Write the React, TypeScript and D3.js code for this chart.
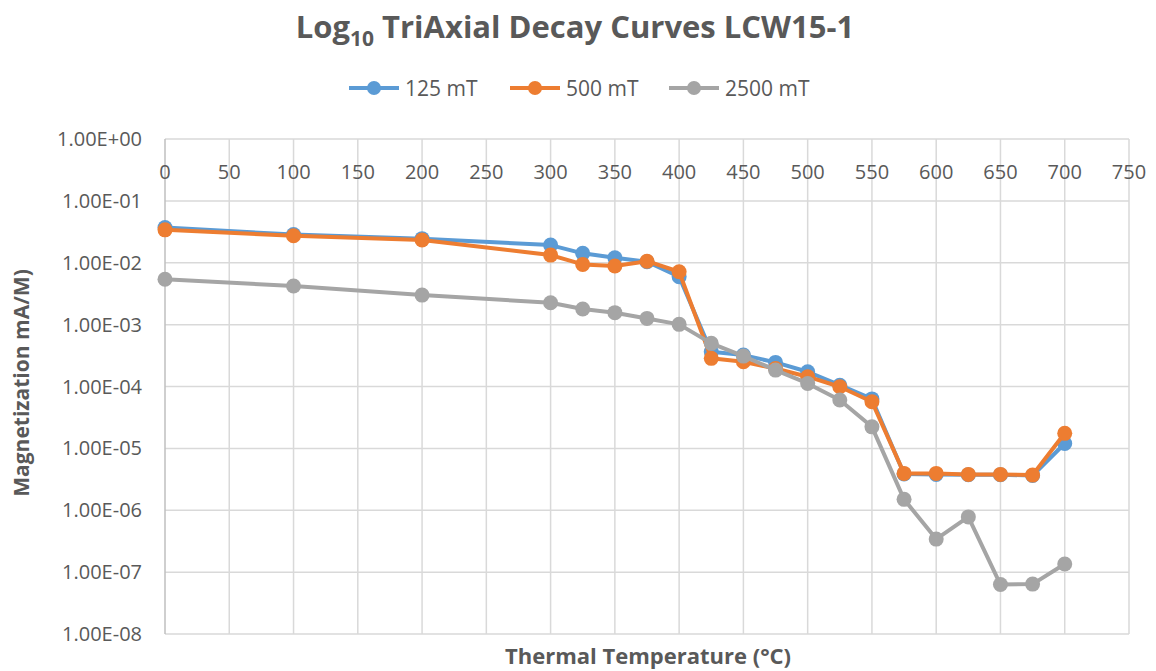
import React from "react";
import * as d3 from "d3";

// Thermal demagnetization steps (°C)
const temperatures = [0, 100, 200, 300, 325, 350, 375, 400, 425, 450, 475, 500, 525, 550, 575, 600, 625, 650, 675, 700];

// Magnetization (mA/M) per IRM component
const mag125 = [3.7e-2, 2.85e-2, 2.45e-2, 1.93e-2, 1.42e-2, 1.2e-2, 1.04e-2, 5.94e-3, 3.65e-4, 3.22e-4, 2.45e-4, 1.73e-4, 1.05e-4, 6.3e-5, 3.85e-6, 3.8e-6, 3.75e-6, 3.75e-6, 3.65e-6, 1.2e-5];
const mag500 = [3.4e-2, 2.73e-2, 2.33e-2, 1.33e-2, 9.4e-3, 8.85e-3, 1.06e-2, 7.16e-3, 2.85e-4, 2.51e-4, 1.95e-4, 1.44e-4, 9.9e-5, 5.66e-5, 3.94e-6, 3.94e-6, 3.8e-6, 3.8e-6, 3.7e-6, 1.75e-5];
const mag2500 = [5.4e-3, 4.2e-3, 3.0e-3, 2.26e-3, 1.79e-3, 1.56e-3, 1.26e-3, 1.01e-3, 4.98e-4, 3.1e-4, 1.84e-4, 1.12e-4, 6.04e-5, 2.23e-5, 1.5e-6, 3.42e-7, 7.8e-7, 6.3e-8, 6.4e-8, 1.35e-7];

const seriesNames = ["125 mT", "500 mT", "2500 mT"];
const seriesColors = ["#5B9BD5", "#ED7D31", "#A5A5A5"];

const xTicks = [0, 50, 100, 150, 200, 250, 300, 350, 400, 450, 500, 550, 600, 650, 700, 750];
const yTicks = [1, 1e-1, 1e-2, 1e-3, 1e-4, 1e-5, 1e-6, 1e-7, 1e-8];

const W = 1156;
const H = 671;
const plot = { left: 165, right: 1129, top: 139, bottom: 634 };
const FONT = "'Open Sans', 'Noto Sans', sans-serif";
const TEXT = "#595959";

const fmtExp = (v: number) => {
  const e = Math.round(Math.log10(v));
  const sign = e < 0 ? "-" : "+";
  return `1.00E${sign}${String(Math.abs(e)).padStart(2, "0")}`;
};

export default function App() {
  const x = d3.scaleLinear().domain([0, 750]).range([plot.left, plot.right]);
  const y = d3.scaleLog().domain([1e-8, 1]).range([plot.bottom, plot.top]);

  const allSeries = [mag125, mag500, mag2500].map((vals, i) => ({
    name: seriesNames[i],
    color: seriesColors[i],
    points: temperatures.map((t, j) => ({ t, v: vals[j] })),
  }));

  const line = d3
    .line<{ t: number; v: number }>()
    .x((d) => x(d.t))
    .y((d) => y(d.v));

  const legendItems = [
    { lineX: 349, textX: 405 },
    { lineX: 510, textX: 566 },
    { lineX: 669, textX: 725 },
  ];

  return (
    <svg
      width={W}
      height={H}
      style={{ position: "absolute", left: 0, top: 0, background: "#fff", display: "block" }}
      fontFamily={FONT}
    >
      {/* Title */}
      <text x={575} y={38} textAnchor="middle" fontSize={31} fontWeight={700} fill={TEXT}>
        Log
        <tspan fontSize={21} dy={8}>10</tspan>
        <tspan dy={-8}> TriAxial Decay Curves LCW15-1</tspan>
      </text>

      {/* Legend */}
      {allSeries.map((s, i) => (
        <g key={s.name}>
          <line
            x1={legendItems[i].lineX}
            x2={legendItems[i].lineX + 50}
            y1={88}
            y2={88}
            stroke={s.color}
            strokeWidth={4}
          />
          <circle cx={legendItems[i].lineX + 25} cy={88} r={7} fill={s.color} />
          <text x={legendItems[i].textX} y={95.5} fontSize={21} fill={TEXT}>
            {s.name}
          </text>
        </g>
      ))}

      {/* Vertical gridlines */}
      {xTicks.filter((t) => t > 0).map((t) => (
        <line key={`vx${t}`} x1={x(t)} x2={x(t)} y1={plot.top} y2={plot.bottom} stroke="#D9D9D9" strokeWidth={1.5} />
      ))}
      {/* Horizontal gridlines */}
      {yTicks.filter((v) => v < 1).map((v) => (
        <line key={`hy${v}`} x1={plot.left} x2={plot.right} y1={y(v)} y2={y(v)} stroke="#D9D9D9" strokeWidth={1.5} />
      ))}
      {/* Axis lines */}
      <line x1={plot.left} x2={plot.right} y1={y(1)} y2={y(1)} stroke="#D9D9D9" strokeWidth={1.5} />
      <line x1={plot.left} x2={plot.left} y1={plot.top} y2={plot.bottom} stroke="#BFBFBF" strokeWidth={1.5} />

      {/* X tick labels (axis crosses at the top) */}
      {xTicks.map((t) => (
        <text key={`xl${t}`} x={x(t)} y={179} textAnchor="middle" fontSize={20} fill={TEXT}>
          {t}
        </text>
      ))}

      {/* Y tick labels */}
      {yTicks.map((v) => (
        <text key={`yl${v}`} x={142} y={y(v) + 7} textAnchor="end" fontSize={20} fill={TEXT}>
          {fmtExp(v)}
        </text>
      ))}

      {/* Series */}
      {allSeries.map((s) => (
        <g key={s.name}>
          <path d={line(s.points) ?? ""} fill="none" stroke={s.color} strokeWidth={4} strokeLinejoin="round" />
          {s.points.map((p) => (
            <circle key={p.t} cx={x(p.t)} cy={y(p.v)} r={7.5} fill={s.color} />
          ))}
        </g>
      ))}

      {/* Axis titles */}
      <text x={648} y={664} textAnchor="middle" fontSize={22} fontWeight={700} fill={TEXT}>
        Thermal Temperature (°C)
      </text>
      <text
        transform={`translate(29, 383) rotate(-90)`}
        textAnchor="middle"
        fontSize={21}
        fontWeight={700}
        fill={TEXT}
      >
        Magnetization mA/M)
      </text>
    </svg>
  );
}
